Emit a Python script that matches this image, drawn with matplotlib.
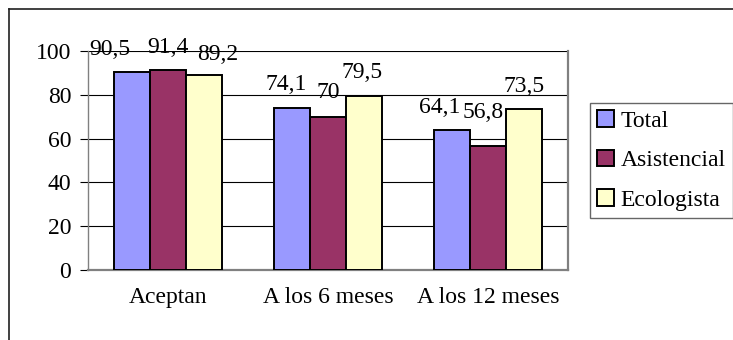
import matplotlib.pyplot as plt
import numpy as np
from matplotlib.patches import Patch
from matplotlib.lines import Line2D

plt.rcParams['font.family'] = ['Liberation Serif', 'DejaVu Serif']

# Data
categories = ['Aceptan', 'A los 6 meses', 'A los 12 meses']
series = ['Total', 'Asistencial', 'Ecologista']
total = [90.5, 74.1, 64.1]
asistencial = [91.4, 70, 56.8]
ecologista = [89.2, 79.5, 73.5]
colors = ['#9999FF', '#993366', '#FFFFCC']

# label nudges in pixels (dx, dy) so the numbers don't collide
label_dx = [[-22, 0, 14], [-6, 0, -2], [-12, -5, 0]]
label_dy = [[22, 22, 20], [23, 24, 23], [22, 33, 23]]

fs = 17

fig = plt.figure(figsize=(7.33, 3.4), dpi=100)
ax = fig.add_axes([88 / 733, 1 - 270 / 340, 480 / 733, 219 / 340])

x = np.arange(len(categories))
width = 0.225
values = [total, asistencial, ecologista]
for i, (name, vals) in enumerate(zip(series, values)):
    pos = x + (i - 1) * width
    ax.bar(pos, vals, width, color=colors[i], edgecolor='black',
           linewidth=1.4, label=name, zorder=3)
    for j, v in enumerate(vals):
        txt = ('%g' % v).replace('.', ',')
        ax.annotate(txt, (pos[j], v), xytext=(label_dx[j][i], label_dy[j][i]),
                    textcoords='offset pixels', ha='center', va='center',
                    fontsize=fs, zorder=4)

ax.set_xlim(-0.5, 2.5)
ax.set_ylim(0, 100)
ax.set_yticks(range(0, 101, 20))
ax.yaxis.grid(True, color='black', linewidth=0.8, zorder=0)
ax.set_axisbelow(True)
ax.set_xticks(x)
ax.set_xticklabels(categories)
ax.tick_params(axis='x', length=0, pad=12, labelsize=fs)
ax.tick_params(axis='y', length=6, width=0.8, pad=6, labelsize=fs,
               direction='out')
for s in ax.spines.values():
    s.set_color('#808080')
    s.set_linewidth(1.6)
ax.spines['left'].set_linewidth(1.0)
ax.spines['top'].set_visible(False)

handles = [Patch(facecolor=c, edgecolor='black', linewidth=1.4) for c in colors]
leg = fig.legend(handles, series, loc='upper left',
                 bbox_to_anchor=(590 / 733, 1 - 103 / 340),
                 fontsize=fs, frameon=True, fancybox=False,
                 edgecolor='#404040', handlelength=0.7, handleheight=0.7,
                 handletextpad=0.3, labelspacing=0.76, borderpad=0.3,
                 borderaxespad=0)
leg.get_frame().set_linewidth(1.0)

# outer chart frame
fig.add_artist(Line2D([8.5 / 733, 8.5 / 733], [0, 1 - 9 / 340],
                      color='#202020', linewidth=1.2))
fig.add_artist(Line2D([8.5 / 733, 1], [1 - 9 / 340, 1 - 9 / 340],
                      color='#202020', linewidth=1.2))

fig.savefig('out.png', dpi=100)
